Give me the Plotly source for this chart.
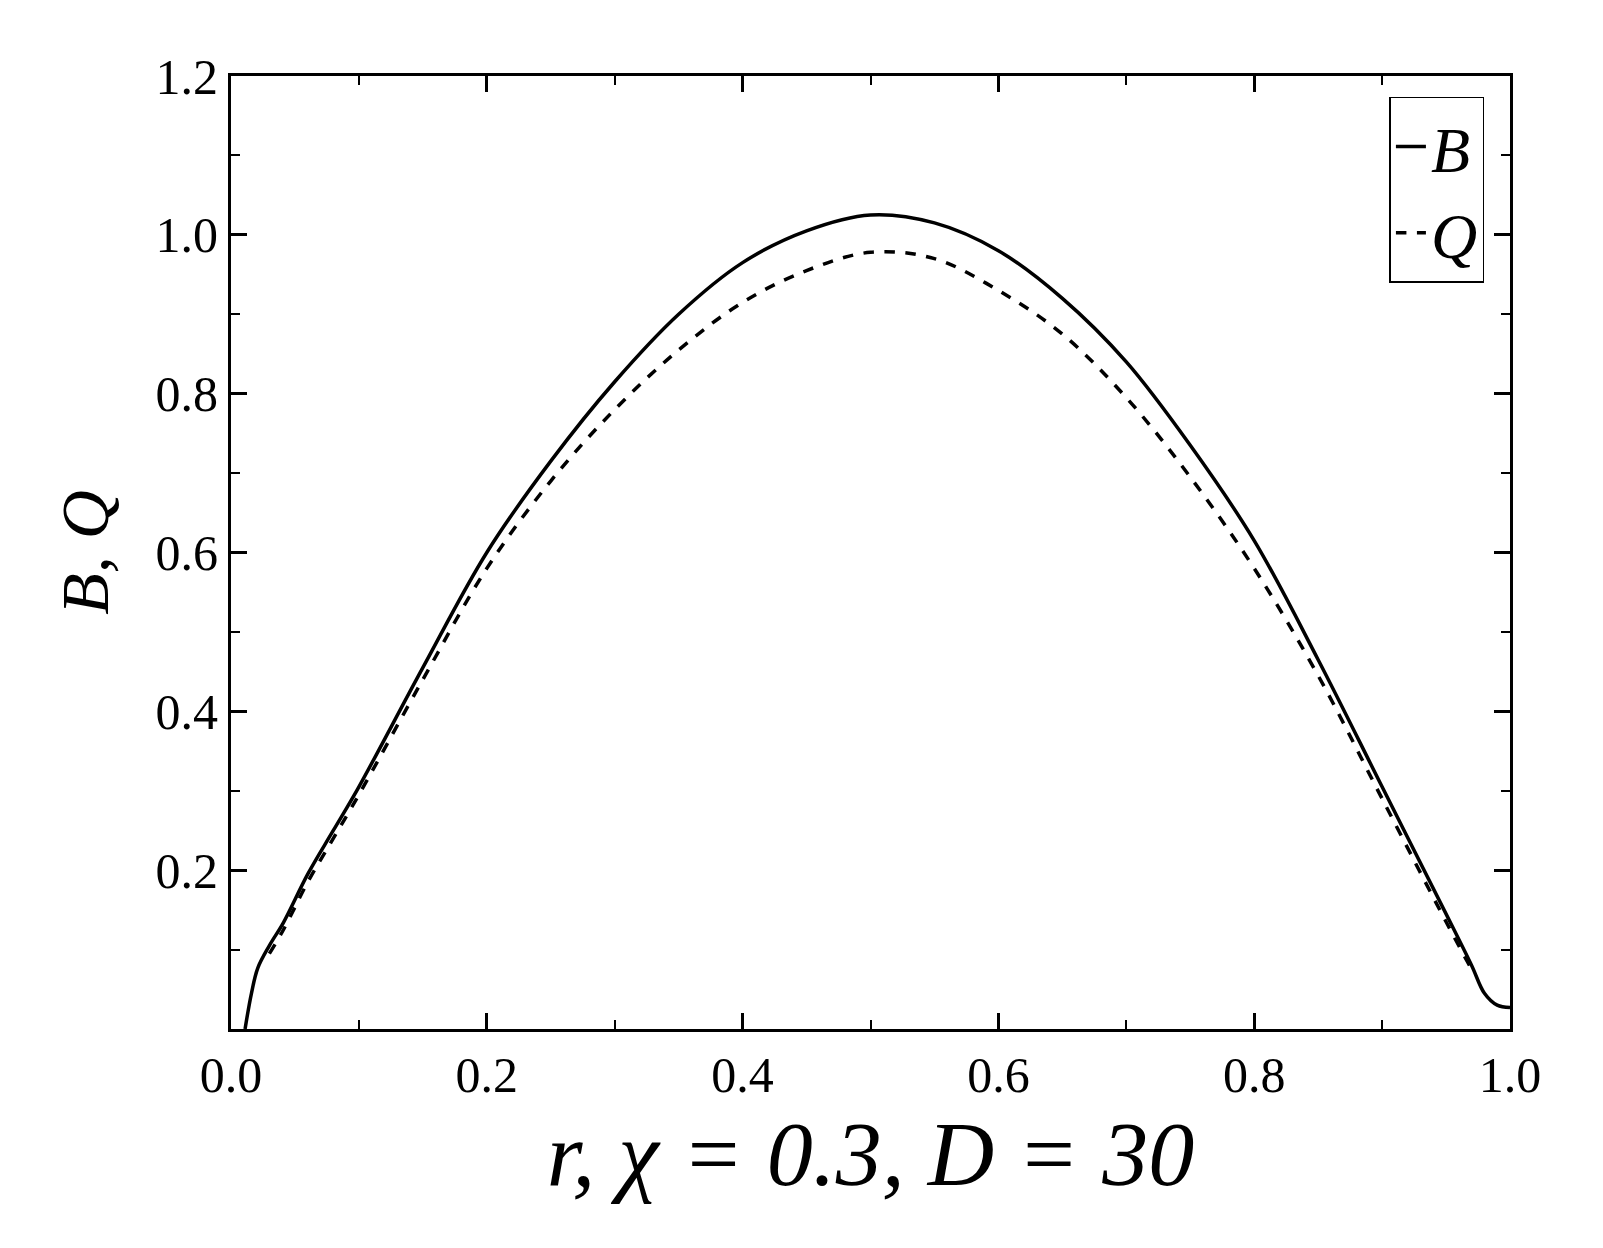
import plotly.graph_objects as go

r_b = [0.011, 0.016, 0.021, 0.03, 0.041, 0.06, 0.08, 0.1, 0.15, 0.2, 0.25, 0.3, 0.35, 0.4, 0.45,
       0.5, 0.55, 0.6, 0.65, 0.7, 0.75, 0.8, 0.85, 0.9, 0.95, 0.97, 0.98, 0.99, 1.0]
b_vals = [0.0, 0.045, 0.077, 0.105, 0.134, 0.195, 0.25, 0.305, 0.455, 0.6, 0.715, 0.815, 0.9, 0.965, 1.005,
          1.025, 1.015, 0.98, 0.92, 0.84, 0.735, 0.615, 0.465, 0.305, 0.145, 0.08, 0.045, 0.03, 0.027]

r_q = [0.03, 0.041, 0.06, 0.08, 0.1, 0.15, 0.2, 0.25, 0.3, 0.35, 0.4, 0.45,
       0.5, 0.55, 0.6, 0.65, 0.7, 0.75, 0.8, 0.85, 0.9, 0.95, 0.97]
q_vals = [0.095, 0.125, 0.185, 0.24, 0.295, 0.44, 0.58, 0.69, 0.78, 0.855, 0.915, 0.955,
          0.978, 0.97, 0.93, 0.875, 0.795, 0.695, 0.58, 0.445, 0.29, 0.135, 0.075]

font = "Liberation Serif"
fig = go.Figure()
fig.add_trace(go.Scatter(x=r_b, y=b_vals, mode="lines", name="<i>B</i>", line=dict(color="black", width=3.5, shape="spline")))
fig.add_trace(go.Scatter(x=r_q, y=q_vals, mode="lines", name="<i>Q</i>", line=dict(color="black", width=3.5, dash="dash", shape="spline")))

axis = dict(showline=True, linecolor="black", linewidth=3, mirror="ticks", ticks="inside", ticklen=16, tickwidth=3,
            tickcolor="black", showgrid=False, zeroline=False, tickfont=dict(family=font, size=50, color="black"),
            minor=dict(ticks="inside", ticklen=9, tickwidth=2, tickcolor="black", dtick=0.1))
fig.update_xaxes(axis, range=[0, 1], dtick=0.2, tickformat=".1f",
                 title=dict(text="<i>r, χ = 0.3, D = 30</i>", font=dict(family=font, size=92, color="black"), standoff=15))
fig.update_yaxes(axis, range=[0, 1.2], tickvals=[0.2, 0.4, 0.6, 0.8, 1.0, 1.2], tickformat=".1f",
                 title=dict(text="<i>B, Q</i>", font=dict(family=font, size=68, color="black"), standoff=25))
fig.update_layout(width=1603, height=1248, plot_bgcolor="white", paper_bgcolor="white",
                  margin=dict(l=223, r=101, t=68, b=227),
                  legend=dict(x=0.98, y=0.978, xanchor="right", yanchor="top", bordercolor="black", borderwidth=1.5,
                              font=dict(family=font, size=64, color="black"), bgcolor="white"))
fig.write_html("out.html")
